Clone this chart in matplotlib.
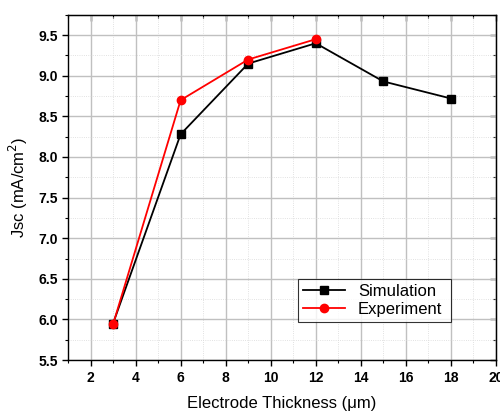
import matplotlib
matplotlib.use("Agg")
import matplotlib.pyplot as plt
from matplotlib.ticker import MultipleLocator

# Data
thickness_sim = [3, 6, 9, 12, 15, 18]
jsc_sim = [5.95, 8.28, 9.15, 9.40, 8.93, 8.72]

thickness_exp = [3, 6, 9, 12]
jsc_exp = [5.94, 8.70, 9.20, 9.45]

plt.rcParams["font.family"] = ["Liberation Sans", "DejaVu Sans"]

fig = plt.figure(figsize=(5.0, 4.12), dpi=100)
ax = fig.add_axes([0.136, 0.126, 0.856, 0.838])

ax.plot(thickness_sim, jsc_sim, color="black", marker="s", markersize=5.5,
        linewidth=1.3, label="Simulation", zorder=3)
ax.plot(thickness_exp, jsc_exp, color="red", marker="o", markersize=6,
        linewidth=1.3, label="Experiment", zorder=4)

ax.set_xlim(1, 20)
ax.set_ylim(5.5, 9.75)
ax.xaxis.set_major_locator(MultipleLocator(2))
ax.xaxis.set_minor_locator(MultipleLocator(1))
ax.yaxis.set_major_locator(MultipleLocator(0.5))
ax.yaxis.set_minor_locator(MultipleLocator(0.25))
ax.set_xticks(range(2, 21, 2))
ax.set_yticks([5.5, 6.0, 6.5, 7.0, 7.5, 8.0, 8.5, 9.0, 9.5])
ax.set_yticklabels(["5.5", "6.0", "6.5", "7.0", "7.5", "8.0", "8.5", "9.0", "9.5"])

# grid
ax.grid(which="major", color="#c0c0c0", linewidth=1.0)
ax.grid(which="minor", color="#d8d8d8", linewidth=0.6, linestyle=":")
ax.set_axisbelow(True)

# ticks: outward on bottom/left, inward on top/right
ax.tick_params(which="both", bottom=True, left=True, top=False, right=False,
               direction="out")
ax.tick_params(which="major", length=4, width=1)
ax.tick_params(which="minor", length=2.5, width=0.8)
ax.tick_params(axis="both", labelsize=10)
for lbl in ax.get_xticklabels() + ax.get_yticklabels():
    lbl.set_fontweight("bold")

sec_x = ax.secondary_xaxis("top")
sec_x.xaxis.set_major_locator(MultipleLocator(2))
sec_x.xaxis.set_minor_locator(MultipleLocator(1))
sec_x.tick_params(which="both", direction="in", labeltop=False)
sec_x.tick_params(which="major", length=4, width=1)
sec_x.tick_params(which="minor", length=2.5, width=0.8)
sec_y = ax.secondary_yaxis("right")
sec_y.yaxis.set_major_locator(MultipleLocator(0.5))
sec_y.yaxis.set_minor_locator(MultipleLocator(0.25))
sec_y.tick_params(which="both", direction="in", labelright=False)
sec_y.tick_params(which="major", length=4, width=1)
sec_y.tick_params(which="minor", length=2.5, width=0.8)

for sp in ax.spines.values():
    sp.set_linewidth(1.0)

ax.set_xlabel("Electrode Thickness (\u03bcm)", fontsize=12, labelpad=8)
ax.set_ylabel("Jsc (mA/cm$^2$)", fontsize=12, labelpad=6)

leg = ax.legend(loc="lower left", bbox_to_anchor=(0.537, 0.111, 0.357, 0.127),
                mode="expand", fontsize=12, frameon=True, fancybox=False,
                edgecolor="black", borderpad=0.3, labelspacing=0.15,
                handlelength=2.5, borderaxespad=0)
leg.get_frame().set_linewidth(0.8)

fig.savefig("out.png", dpi=100)
